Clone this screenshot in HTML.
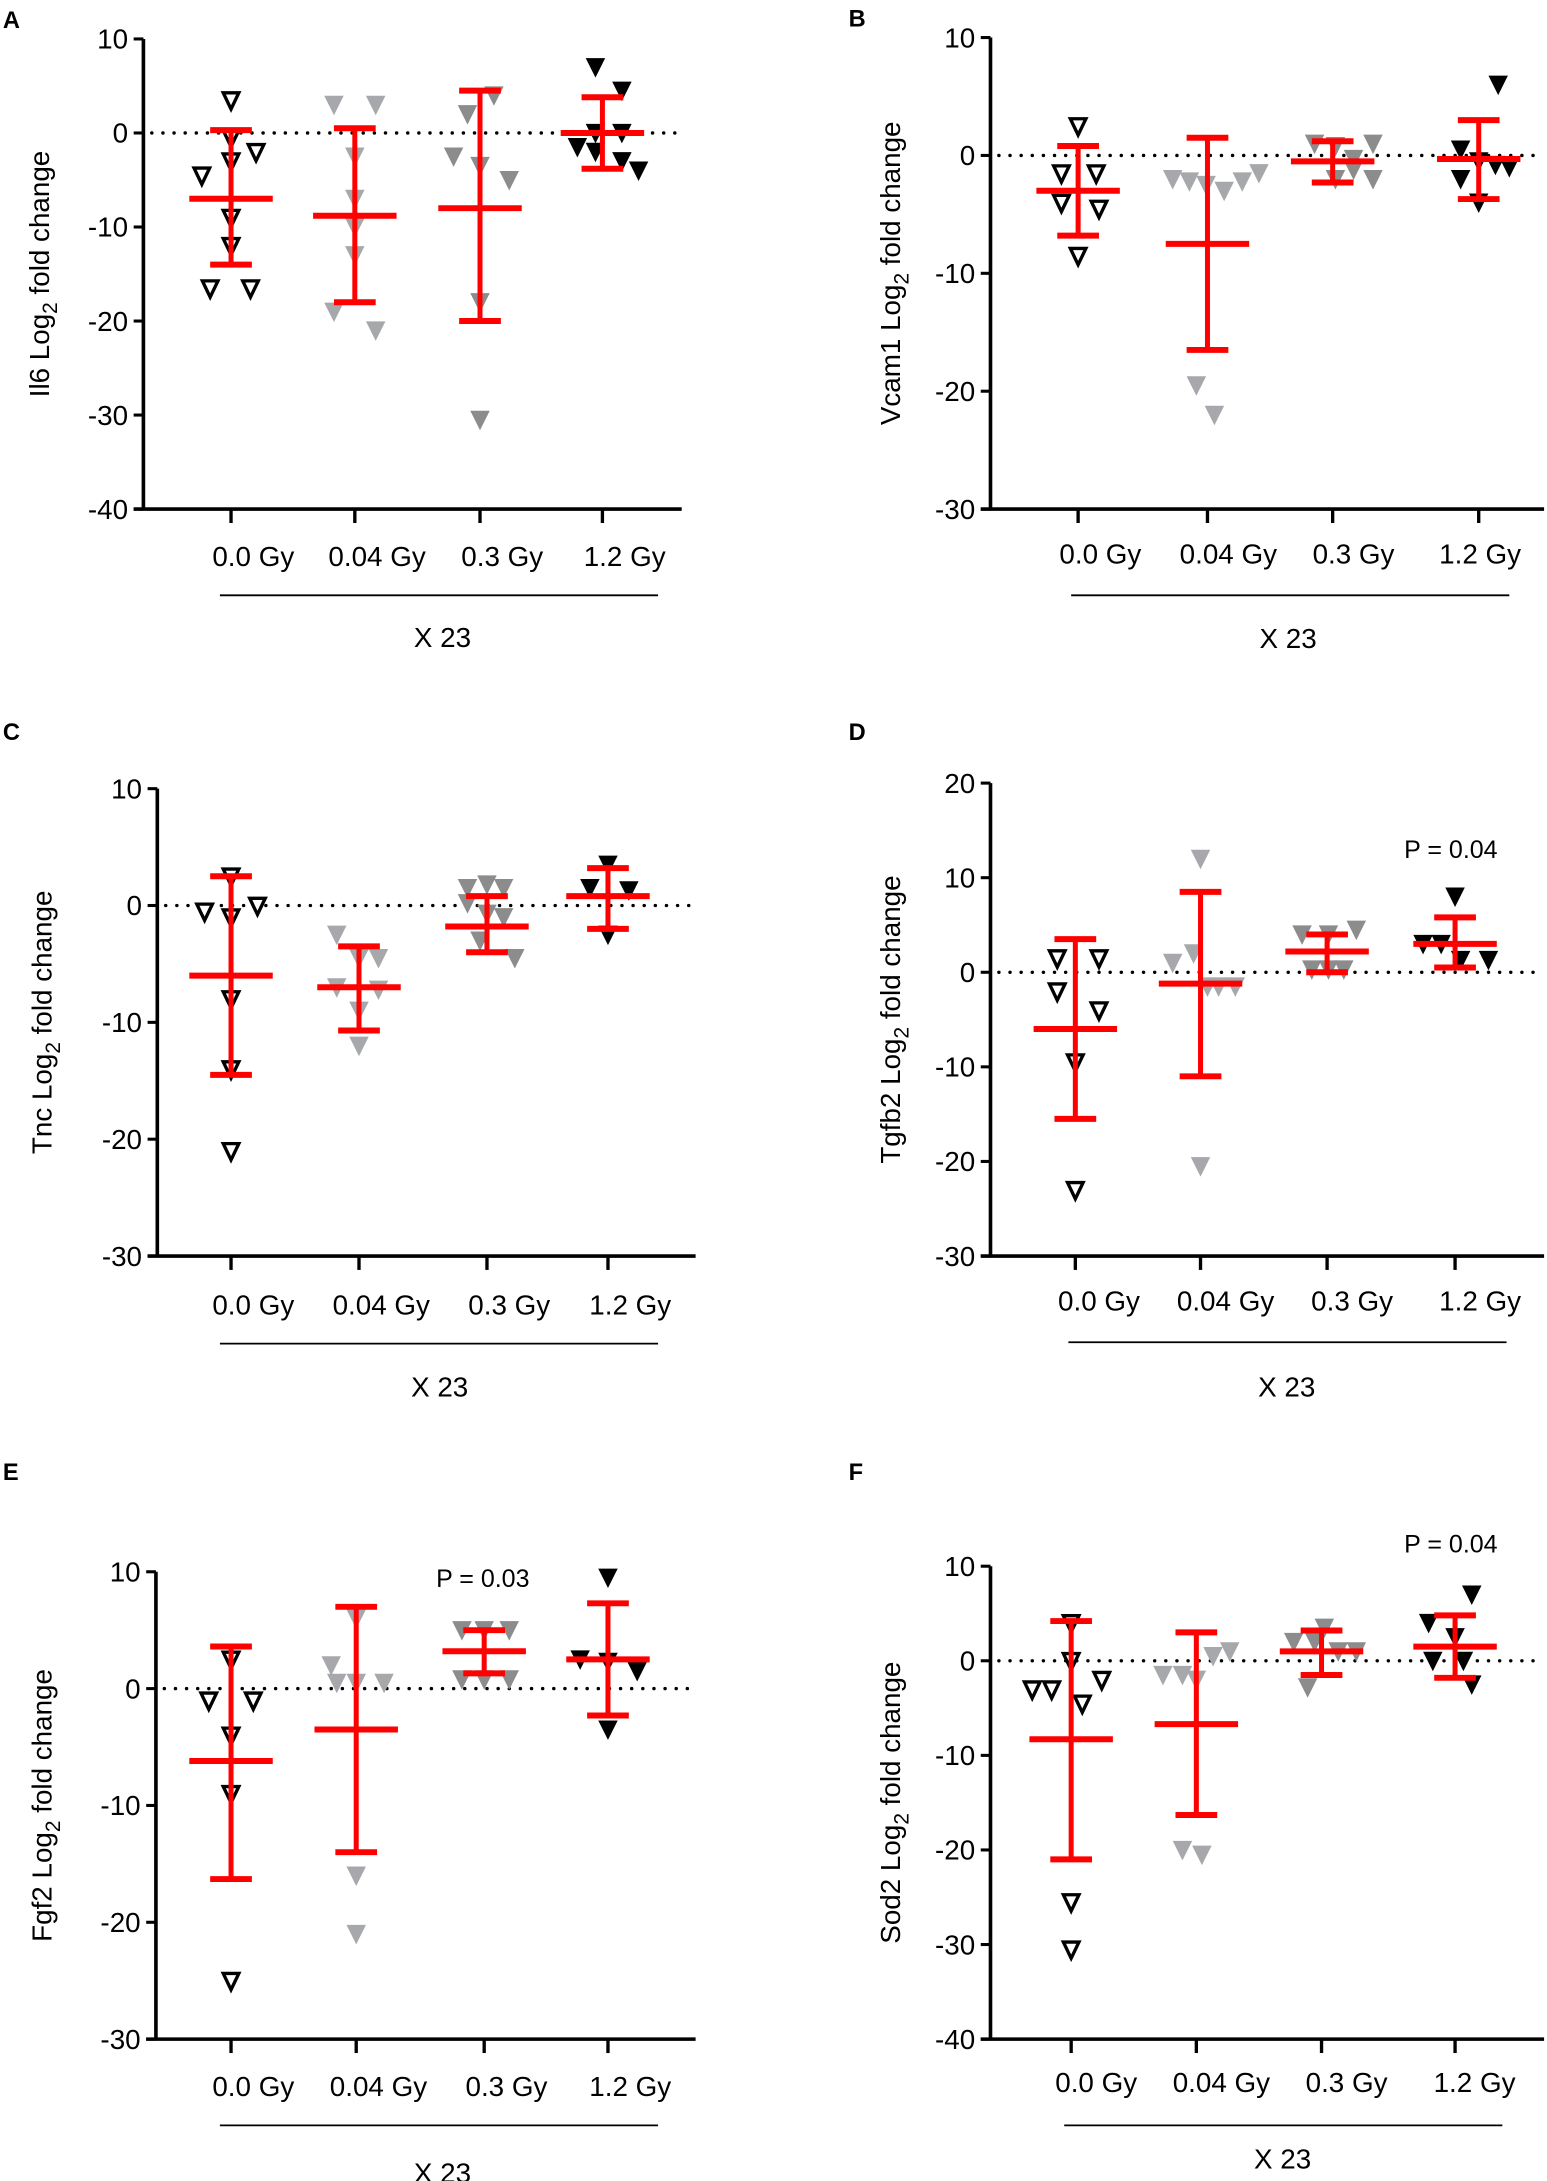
<!DOCTYPE html>
<html><head><meta charset="utf-8">
<style>html,body{margin:0;padding:0;background:#fff}svg{display:block}
text{font-family:"Liberation Sans",Arial,sans-serif;fill:#000}</style></head>
<body>
<svg id="s" width="1547" height="2181" viewBox="0 0 1112 1568" xmlns="http://www.w3.org/2000/svg">
<text x="2" y="20" font-size="17" font-weight="bold">A</text>
<text x="610" y="19" font-size="17" font-weight="bold">B</text>
<text x="2" y="532" font-size="17" font-weight="bold">C</text>
<text x="610" y="532" font-size="17" font-weight="bold">D</text>
<text x="2" y="1064" font-size="17" font-weight="bold">E</text>
<text x="610" y="1064" font-size="17" font-weight="bold">F</text>
</svg>
<script>
var NS="http://www.w3.org/2000/svg",S=document.getElementById('s');
function el(t,a,txt){var e=document.createElementNS(NS,t);for(var k in a)e.setAttribute(k,a[k]);if(txt!==undefined)e.textContent=txt;S.appendChild(e);return e;}
var P=[
{name:"Il6",ax:103,xe:490,ticks:[[10,28],[-40,366]],tv:[10,0,-10,-20,-30,-40],g:[166,255,345,433],lab:400,ul:[428,158,473],xt:458,xc:318,tx:28,
 d:[[[166,3.5],[166,-0.5],[166,-3],[145,-4.5],[184,-2],[166,-9],[166,-12],[151,-16.5],[180,-16.5]],
    [[240,3],[270,3],[255,-2.5],[255,-7],[255,-10],[255,-13],[240,-19],[270,-21]],
    [[326,-2.5],[336,2],[345,-3.5],[355,4],[366,-5],[345,-18],[345,-30.5]],
    [[428,7],[447,4.5],[428,0],[447,0],[415,-1.5],[428,-2],[447,-3],[459,-4]]],
 m:[[-7,0.3,-14],[-8.8,0.5,-18],[-8,4.5,-20],[0,3.8,-3.8]]},
{name:"Vcam1",ax:712,xe:1110,ticks:[[10,27],[-30,366]],tv:[10,0,-10,-20,-30],g:[775,868,958,1063],lx:[791,883,973,1064],lab:398,ul:[428,770,1085],xt:459,xc:926,tx:640,
 d:[[[775,2.5],[763,-1.5],[788,-1.5],[763,-4],[790,-4.5],[775,-8.5]],
    [[843,-2],[855,-2.2],[867,-2.5],[880,-3],[893,-2.2],[905,-1.5],[860,-19.5],[873,-22]],
    [[945,1],[960,0.8],[973,-0.3],[987,1],[960,-2],[973,-1.2],[987,-2]],
    [[1050,0.5],[1077,6],[1063,-0.5],[1050,-2],[1075,-0.8],[1085,-1],[1063,-4]]],
 m:[[-3,0.8,-6.8],[-7.5,1.5,-16.5],[-0.5,1.2,-2.3],[-0.3,3,-3.7]]},
{name:"Tnc",ax:113,xe:500,ticks:[[10,567],[-30,903]],tv:[10,0,-10,-20,-30],g:[166,258,350,437],lab:938,ul:[966,158,473],xt:997,xc:316,tx:30,
 d:[[[166,2.5],[147,-0.5],[185,0],[166,-1],[166,-8],[166,-14],[166,-21]],
    [[242,-2.5],[258,-4.5],[272,-4.5],[242,-7],[272,-7.2],[258,-9],[258,-12]],
    [[336,1.5],[350,1.8],[362,1.5],[336,0.2],[350,-0.7],[362,-1],[345,-3],[370,-4.5]],
    [[424,1.5],[437,3.5],[452,1.3],[437,-2.5]]],
 m:[[-6,2.5,-14.5],[-7,-3.5,-10.7],[-1.8,0.8,-4],[0.8,3.2,-2]]},
{name:"Tgfb2",ax:712,xe:1110,ticks:[[20,563],[-30,903]],tv:[20,10,0,-10,-20,-30],g:[773,863,954,1046],lx:[790,881,972,1064],lab:935,ul:[965,768,1083],xt:997,xc:925,tx:640,p:[1043,611],
 d:[[[760,1.5],[790,1.5],[760,-2],[790,-4],[773,-9.5],[773,-23]],
    [[843,1],[863,12],[858,2],[868,-1.5],[876,-1.5],[888,-1.5],[863,-20.5]],
    [[936,4],[955,4],[975,4.5],[943,0.3],[955,0.3],[966,0.3]],
    [[1046,8],[1023,3],[1036,3],[1050,1.3],[1070,1.3]]],
 m:[[-6,3.5,-15.5],[-1.2,8.5,-11],[2.2,4,0],[3,5.8,0.5]]},
{name:"Fgf2",ax:112,xe:500,ticks:[[10,1130],[-30,1466]],tv:[10,0,-10,-20,-30],g:[166,256,348,437],lab:1500,ul:[1528,158,473],xt:1562,xc:318,tx:30,p:[347,1135],
 d:[[[166,2.5],[150,-1],[182,-1],[166,-4],[166,-9],[166,-25]],
    [[238,2],[256,6],[256,0.5],[242,0.5],[276,0.5],[256,-16],[256,-21]],
    [[332,5],[348,5],[366,5],[332,0.8],[348,0.8],[366,0.8]],
    [[437,9.5],[417,2.5],[437,2.3],[458,1.5],[437,-3.5]]],
 m:[[-6.2,3.6,-16.3],[-3.5,7,-14],[3.2,5,1.3],[2.5,7.3,-2.3]]},
{name:"Sod2",ax:712,xe:1110,ticks:[[10,1126],[-40,1466]],tv:[10,0,-10,-20,-30,-40],g:[770,860,950,1046],lx:[788,878,968,1060],lab:1497,ul:[1528,765,1080],xt:1552,xc:922,tx:640,p:[1043,1110],
 d:[[[770,4],[770,0],[756,-3],[742,-3],[778,-4.5],[792,-2],[770,-25.5],[770,-30.5]],
    [[836,-1.5],[850,-1.5],[860,-2],[872,0.5],[884,1],[850,-20],[864,-20.5]],
    [[930,2],[945,2],[952,3.5],[962,1],[975,1],[940,-2.8]],
    [[1058,7],[1027,4],[1046,2.5],[1030,0],[1052,0],[1058,-2.5]]],
 m:[[-8.3,4.2,-21],[-6.7,3,-16.3],[1,3.2,-1.5],[1.5,4.8,-1.8]]}
];
var labs=["0.0 Gy","0.04 Gy","0.3 Gy","1.2 Gy"];
P.forEach(function(p){
 var v0=p.ticks[0][0],y0=p.ticks[0][1],v1=p.ticks[1][0],y1=p.ticks[1][1];
 function Y(v){return y0+(v-v0)*(y1-y0)/(v1-v0);}
 var yb=y1;
 el('line',{x1:p.ax,y1:y0,x2:p.ax,y2:yb,stroke:'#000','stroke-width':2.6});
 el('line',{x1:p.ax-7,y1:yb,x2:p.xe,y2:yb,stroke:'#000','stroke-width':2.6});
 p.tv.forEach(function(v){var y=Y(v);el('line',{x1:p.ax-7,y1:y,x2:p.ax,y2:y,stroke:'#000','stroke-width':2.2});
  el('text',{x:p.ax-11,y:y+7,'font-size':20,'text-anchor':'end'},String(v));});
 p.g.forEach(function(x,i){el('line',{x1:x,y1:yb,x2:x,y2:yb+10,stroke:'#000','stroke-width':2.4});
  el('text',{x:p.lx?p.lx[i]:x+16,y:p.lab+7,'font-size':20,'text-anchor':'middle'},labs[i]);});
 el('line',{x1:p.ul[1],y1:p.ul[0],x2:p.ul[2],y2:p.ul[0],stroke:'#000','stroke-width':1.3});
 el('text',{x:p.xc,y:p.xt+7,'font-size':20,'text-anchor':'middle'},"X 23");
 var t=el('text',{transform:'translate('+(p.tx+7)+','+((y0+yb)/2)+') rotate(-90)','font-size':20,'text-anchor':'middle'});
 t.innerHTML=p.name+' Log<tspan font-size="15" dy="6">2</tspan><tspan dy="-6"> fold change</tspan>';
 el('line',{x1:p.ax+6,y1:Y(0),x2:p.xe,y2:Y(0),stroke:'#000','stroke-width':2.4,'stroke-dasharray':'0.1 7.9','stroke-linecap':'round'});
 var cols=['open','#a6a8ab','#8c8c8c','#000'];
 p.d.forEach(function(gr,i){gr.forEach(function(pt){var x=pt[0],y=Y(pt[1]);
  if(i==0)el('polygon',{points:(x-5.6)+','+(y-5.2)+' '+(x+5.6)+','+(y-5.2)+' '+x+','+(y+6.5),fill:'#fff',stroke:'#000','stroke-width':2.4,'stroke-linejoin':'miter'});
  else el('polygon',{points:(x-7)+','+(y-6.5)+' '+(x+7)+','+(y-6.5)+' '+x+','+(y+7.5),fill:cols[i]});});});
 p.m.forEach(function(m,i){var x=p.g[i],r='#ff0000';
  el('line',{x1:x,y1:Y(m[1]),x2:x,y2:Y(m[2]),stroke:r,'stroke-width':3.6});
  el('line',{x1:x-30,y1:Y(m[0]),x2:x+30,y2:Y(m[0]),stroke:r,'stroke-width':4.3});
  el('line',{x1:x-15,y1:Y(m[1]),x2:x+15,y2:Y(m[1]),stroke:r,'stroke-width':4.3});
  el('line',{x1:x-15,y1:Y(m[2]),x2:x+15,y2:Y(m[2]),stroke:r,'stroke-width':4.3});});
 if(p.p)el('text',{x:p.p[0],y:p.p[1]+6,'font-size':18,'text-anchor':'middle'},"P = 0.0"+(p.name=="Fgf2"?"3":"4"));
});
</script>
</body></html>
